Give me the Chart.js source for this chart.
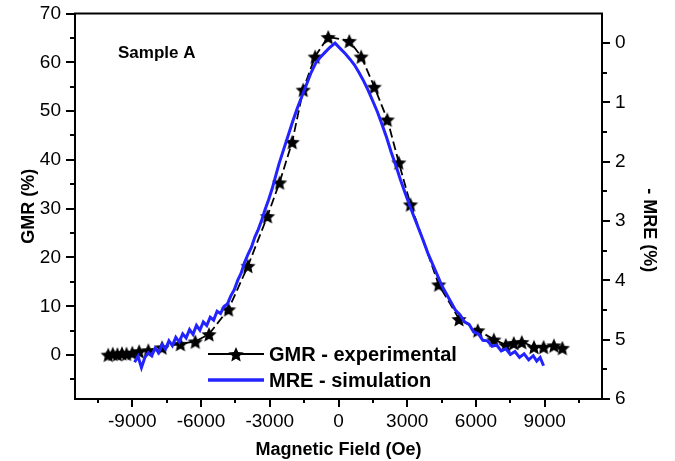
<!DOCTYPE html>
<html><head><meta charset="utf-8">
<script src="https://cdn.jsdelivr.net/npm/chart.js@4/dist/chart.umd.min.js"></script>
<style>html,body{margin:0;padding:0;background:#fff}#wrap{width:675px;height:461px;position:relative}</style>
</head><body><div id="wrap"><canvas id="c" width="675" height="461"></canvas></div>
<script>
// ---- data ----
const gmrField = [-10050,-9850,-9650,-9450,-9250,-9000,-8700,-8300,-7700,-6900,-6250,-5650,-4800,-3950,-3100,-2570,-2020,-1540,-1020,-450,470,990,1560,2130,2630,3140,4370,5260,6080,6780,7300,7650,8000,8530,8950,9400,9770];
const gmrValues = [0.1,0.3,0.2,0.4,0.3,0.5,0.8,1.0,1.6,2.3,2.8,4.3,9.4,18.3,28.5,35.4,43.7,54.4,61.2,65.2,64.4,61.2,55.0,48.3,39.5,30.9,14.5,7.4,5.1,3.2,2.1,2.5,2.7,1.7,1.7,2.0,1.5];

const mreField = [
  -8900,-8750,-8600,-8450,-8300,-8150,-8000,-7850,-7700,-7550,-7400,-7250,-7100,-6950,-6800,-6650,-6500,-6350,-6200,-6050,-5900,-5750,-5600,-5450,-5300,-5150,-5000,-4850,-4700,-4550,-4400,-4250,-4100,-3950,-3800,-3650,-3500,-3350,-3200,-3050,-2900,-2750,-2600,
  -2400,-2200,-2000,-1800,-1600,-1400,-1200,-1000,-800,-600,-400,-150,100,300,500,700,900,1100,1300,1500,1700,1900,2100,2300,2500,2700,2900,3100,3300,3500,3700,3900,4100,4300,4500,4700,
  4900,5100,5300,5500,5700,5900,6100,6300,6500,6700,6900,7100,7300,7500,7700,7900,8100,8300,8500,8650,8800,8950];
const mreValues = [
  5.38,5.28,5.47,5.30,5.22,5.27,5.14,5.22,5.08,5.16,5.02,5.10,4.96,5.04,4.90,4.97,4.83,4.91,4.76,4.84,4.70,4.76,4.62,4.67,4.52,4.56,4.44,4.40,4.26,4.16,4.00,3.88,3.70,3.56,3.44,3.27,3.14,2.98,2.80,2.64,2.46,2.25,2.04,
  1.80,1.56,1.32,1.10,0.90,0.70,0.50,0.34,0.24,0.16,0.08,0.0,0.10,0.18,0.27,0.37,0.50,0.64,0.80,0.98,1.16,1.37,1.59,1.84,2.06,2.30,2.52,2.73,2.93,3.13,3.33,3.54,3.72,3.90,4.08,4.22,
  4.36,4.50,4.58,4.70,4.74,4.87,4.90,5.01,5.02,5.11,5.09,5.19,5.15,5.25,5.20,5.30,5.24,5.34,5.27,5.36,5.30,5.44];

const fieldTicks = [-9000,-6000,-3000,0,3000,6000,9000];
const gmrTicks = [0,10,20,30,40,50,60,70];
const mreTicks = [0,1,2,3,4,5,6];
const seriesNames = ['GMR - experimental','MRE - simulation'];
const sampleLabel = 'Sample A';
const mreTitle = '- MRE (%)';

// ---- styling ----
const FONT = 'Liberation Sans, Arial, sans-serif';
const BLUE = '#2323ff';

function makeStar(r){
  const s = Math.ceil(r*2+2);
  const c = document.createElement('canvas'); c.width = s; c.height = s;
  const g = c.getContext('2d'); g.fillStyle = '#000'; g.beginPath();
  for (let i=0;i<10;i++){
    const a = -Math.PI/2 + i*Math.PI/5;
    const rr = (i%2) ? r*0.46 : r;
    g.lineTo(s/2 + rr*Math.cos(a), s/2 + 1 + rr*Math.sin(a));
  }
  g.closePath(); g.fill();
  return c;
}
const star = makeStar(8);

const decor = {
  id:'decor',
  afterDraw(chart){
    const {ctx, chartArea:a, scales} = chart;
    ctx.save();
    ctx.strokeStyle = '#000'; ctx.lineWidth = 2;
    ctx.strokeRect(a.left, a.top, a.right-a.left, a.bottom-a.top);
    const seg = (x1,y1,x2,y2)=>{ctx.beginPath();ctx.moveTo(x1,y1);ctx.lineTo(x2,y2);ctx.stroke();};
    ctx.lineWidth = 2;
    const sx = scales.x, sy = scales.y, sr = scales.y2;
    for (let v=-10500; v<=10500; v+=1500){
      const p = Math.round(sx.getPixelForValue(v));
      seg(p, a.bottom, p, a.bottom + (v%3000===0 ? 8 : 4));
    }
    for (let v=-5; v<=70; v+=5){
      const p = Math.round(sy.getPixelForValue(v));
      seg(a.left, p, a.left - (v%10===0 ? 9 : 5), p);
    }
    for (let v=0; v<=6; v+=0.5){
      const p = Math.round(sr.getPixelForValue(v));
      seg(a.right, p, a.right + (Number.isInteger(v) ? 8 : 5), p);
    }
    ctx.fillStyle = '#000';
    // right axis title
    ctx.save();
    ctx.translate(a.right + 47, (a.top + a.bottom)/2 + 24);
    ctx.rotate(Math.PI/2);
    ctx.font = 'bold 18px ' + FONT;
    ctx.textAlign = 'center'; ctx.textBaseline = 'middle';
    ctx.fillText(mreTitle, 0, 0);
    ctx.restore();
    // sample label
    ctx.font = 'bold 17px ' + FONT;
    ctx.textBaseline = 'middle'; ctx.textAlign = 'left';
    ctx.fillText(sampleLabel, a.left + 43, a.top + 40);
    // legend
    const lx = a.left + 133, ly1 = 354, ly2 = 380;
    ctx.strokeStyle = '#000'; ctx.lineWidth = 2;
    seg(lx, ly1, lx + 56, ly1);
    ctx.drawImage(star, lx + 28 - star.width/2, ly1 - star.height/2);
    ctx.strokeStyle = BLUE; ctx.lineWidth = 3.5;
    seg(lx, ly2, lx + 56, ly2);
    ctx.font = 'bold 20px ' + FONT;
    ctx.fillText(seriesNames[0], lx + 61, ly1 + 1);
    ctx.fillText(seriesNames[1], lx + 61, ly2 + 1);
    ctx.restore();
  }
};

const tickFont = {family: FONT, size: 19};
const titleFont = {family: FONT, size: 18, weight: 'bold'};
const plain = v => String(v);
const fixV = w => s => { s.width = w; s.paddingTop = 0; s.paddingBottom = 0; };

new Chart(document.getElementById('c'), {
  type: 'line',
  data: {
    datasets: [
      {
        label: seriesNames[1],
        data: mreField.map((x,i)=>({x, y: mreValues[i]})),
        yAxisID: 'y2',
        borderColor: BLUE, borderWidth: 3, pointRadius: 0, tension: 0,
        order: 0
      },
      {
        label: seriesNames[0],
        data: gmrField.map((x,i)=>({x, y: gmrValues[i]})),
        yAxisID: 'y',
        borderColor: '#000', borderWidth: 1.8, borderDash: [9,4],
        pointStyle: star, pointRadius: 8, pointBackgroundColor: '#000', pointBorderColor: '#000',
        tension: 0, order: 1
      }
    ]
  },
  options: {
    responsive: false, animation: false, devicePixelRatio: 1,
    layout: {padding: {top: 13.5, left: 0, right: 0, bottom: 0}},
    plugins: {legend: {display: false}, tooltip: {enabled: false}},
    scales: {
      x: {
        type: 'linear', position: 'bottom', min: -11500, max: 11500,
        afterBuildTicks: s => { s.ticks = fieldTicks.map(v=>({value:v})); },
        afterFit: s => { s.height = 62; s.paddingLeft = 0; s.paddingRight = 0; },
        grid: {display: false, drawTicks: false}, border: {display: false},
        ticks: {font: tickFont, color: '#000', padding: 11, maxRotation: 0, autoSkip: false, callback: plain},
        title: {display: true, text: 'Magnetic Field (Oe)', font: titleFont, color: '#000', padding: {top: 0, bottom: 0}}
      },
      y: {
        type: 'linear', position: 'left', min: -9, max: 70,
        afterBuildTicks: s => { s.ticks = gmrTicks.map(v=>({value:v})); },
        afterFit: fixV(75),
        grid: {display: false, drawTicks: false}, border: {display: false},
        ticks: {font: tickFont, color: '#000', padding: 14, callback: plain},
        title: {display: true, text: 'GMR (%)', font: titleFont, color: '#000', padding: {top: 18, bottom: 0}}
      },
      y2: {
        type: 'linear', position: 'right', min: -0.5, max: 6, reverse: true,
        afterBuildTicks: s => { s.ticks = mreTicks.map(v=>({value:v})); },
        afterFit: fixV(73),
        grid: {display: false, drawTicks: false}, border: {display: false},
        ticks: {font: tickFont, color: '#000', padding: 13, callback: plain},
        title: {display: false}
      }
    }
  },
  plugins: [decor]
});
</script>
</body></html>
